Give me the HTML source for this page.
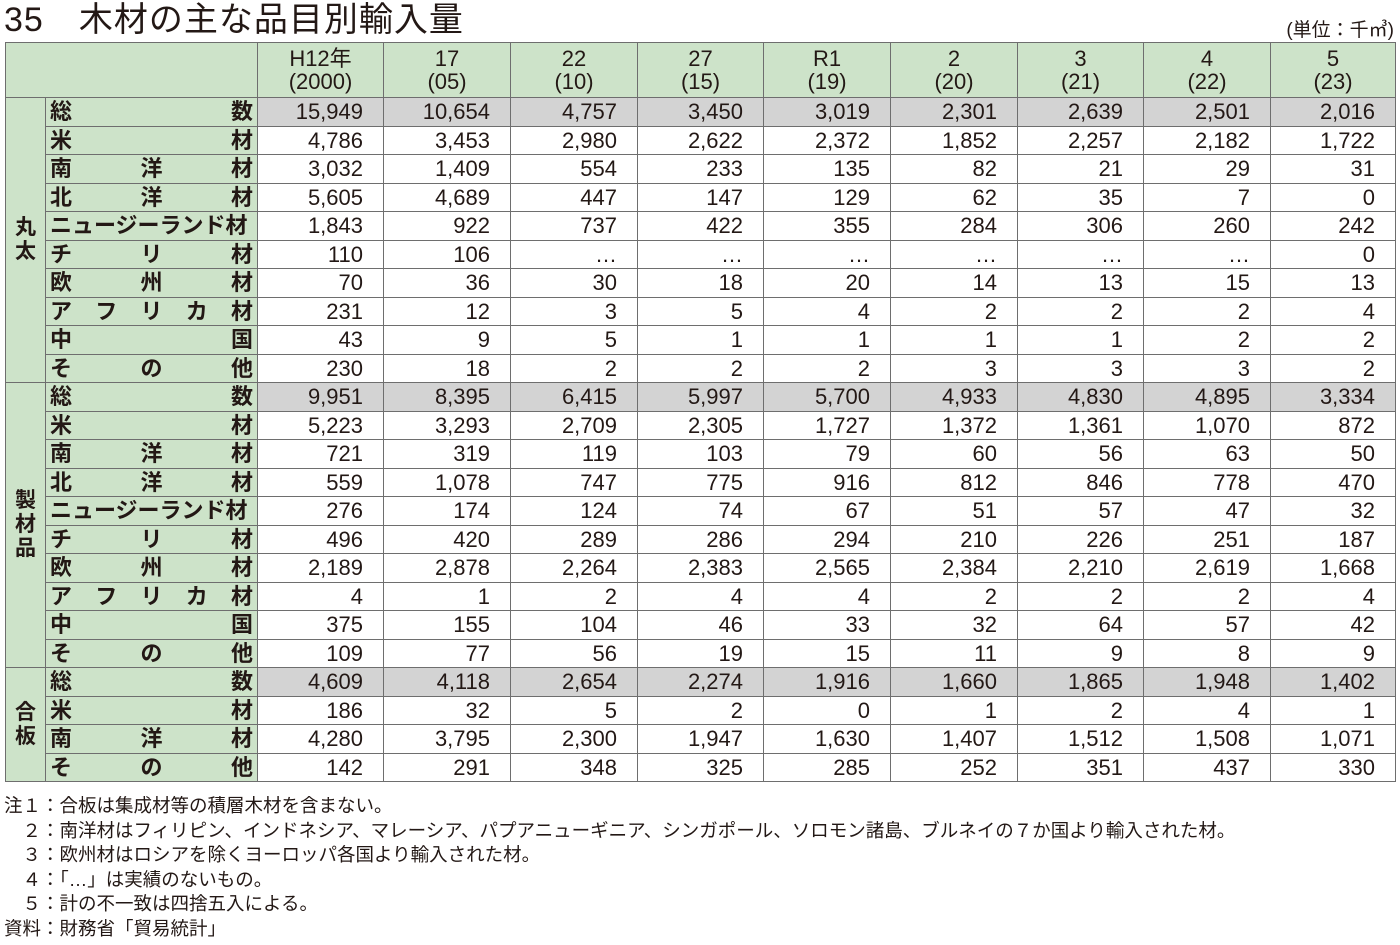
<!DOCTYPE html>
<html><head><meta charset="utf-8"><style>
body{margin:0;width:1400px;height:945px;background:#fff;font-family:"Liberation Sans","Noto Sans CJK JP",sans-serif;color:#231815;position:relative;overflow:hidden}
.title{position:absolute;left:4px;top:0px;font-size:34px;line-height:40px;letter-spacing:1px}
.unit{position:absolute;right:6px;top:15px;font-size:19px}
table{position:absolute;left:5px;top:42px;border-collapse:collapse;table-layout:fixed;width:1390px}
td,th{border:1.5px solid #6e6e6e;padding:0;font-weight:normal}
th{background:#cde3c9;font-size:22px;line-height:23px;height:54px;text-align:center}
td{height:27.5px;font-size:22px;line-height:27px}
td.g{background:#cde3c9;text-align:center;font-size:21px;line-height:24px;font-weight:bold}
td.l{background:#cde3c9;padding:0 4px;font-weight:bold}
td.l div{display:flex;justify-content:space-between}
td.n{text-align:right;padding-right:20px}
tr.t td.n{background:#d3d3d3}
.notes{position:absolute;left:4px;top:794px;font-size:18.5px;line-height:24.6px}
</style></head><body>
<div class="title">35　木材の主な品目別輸入量</div>
<div class="unit">(単位：千㎥)</div>
<table>
<colgroup><col style="width:40px"><col style="width:212px"><col style="width:126px"><col style="width:127px"><col style="width:127px"><col style="width:126px"><col style="width:127px"><col style="width:127px"><col style="width:126px"><col style="width:127px"><col style="width:125px"></colgroup>
<tr><th colspan="2"></th><th>H12年<br>(2000)</th><th>17<br>(05)</th><th>22<br>(10)</th><th>27<br>(15)</th><th>R1<br>(19)</th><th>2<br>(20)</th><th>3<br>(21)</th><th>4<br>(22)</th><th>5<br>(23)</th></tr>
<tr class="t"><td class="g" rowspan="10">丸<br>太</td><td class="l"><div><span>総</span><span>数</span></div></td><td class="n">15,949</td><td class="n">10,654</td><td class="n">4,757</td><td class="n">3,450</td><td class="n">3,019</td><td class="n">2,301</td><td class="n">2,639</td><td class="n">2,501</td><td class="n">2,016</td></tr>
<tr><td class="l"><div><span>米</span><span>材</span></div></td><td class="n">4,786</td><td class="n">3,453</td><td class="n">2,980</td><td class="n">2,622</td><td class="n">2,372</td><td class="n">1,852</td><td class="n">2,257</td><td class="n">2,182</td><td class="n">1,722</td></tr>
<tr><td class="l"><div><span>南</span><span>洋</span><span>材</span></div></td><td class="n">3,032</td><td class="n">1,409</td><td class="n">554</td><td class="n">233</td><td class="n">135</td><td class="n">82</td><td class="n">21</td><td class="n">29</td><td class="n">31</td></tr>
<tr><td class="l"><div><span>北</span><span>洋</span><span>材</span></div></td><td class="n">5,605</td><td class="n">4,689</td><td class="n">447</td><td class="n">147</td><td class="n">129</td><td class="n">62</td><td class="n">35</td><td class="n">7</td><td class="n">0</td></tr>
<tr><td class="l"><div><span>ニュージーランド材</span></div></td><td class="n">1,843</td><td class="n">922</td><td class="n">737</td><td class="n">422</td><td class="n">355</td><td class="n">284</td><td class="n">306</td><td class="n">260</td><td class="n">242</td></tr>
<tr><td class="l"><div><span>チ</span><span>リ</span><span>材</span></div></td><td class="n">110</td><td class="n">106</td><td class="n">…</td><td class="n">…</td><td class="n">…</td><td class="n">…</td><td class="n">…</td><td class="n">…</td><td class="n">0</td></tr>
<tr><td class="l"><div><span>欧</span><span>州</span><span>材</span></div></td><td class="n">70</td><td class="n">36</td><td class="n">30</td><td class="n">18</td><td class="n">20</td><td class="n">14</td><td class="n">13</td><td class="n">15</td><td class="n">13</td></tr>
<tr><td class="l"><div><span>ア</span><span>フ</span><span>リ</span><span>カ</span><span>材</span></div></td><td class="n">231</td><td class="n">12</td><td class="n">3</td><td class="n">5</td><td class="n">4</td><td class="n">2</td><td class="n">2</td><td class="n">2</td><td class="n">4</td></tr>
<tr><td class="l"><div><span>中</span><span>国</span></div></td><td class="n">43</td><td class="n">9</td><td class="n">5</td><td class="n">1</td><td class="n">1</td><td class="n">1</td><td class="n">1</td><td class="n">2</td><td class="n">2</td></tr>
<tr><td class="l"><div><span>そ</span><span>の</span><span>他</span></div></td><td class="n">230</td><td class="n">18</td><td class="n">2</td><td class="n">2</td><td class="n">2</td><td class="n">3</td><td class="n">3</td><td class="n">3</td><td class="n">2</td></tr>
<tr class="t"><td class="g" rowspan="10">製<br>材<br>品</td><td class="l"><div><span>総</span><span>数</span></div></td><td class="n">9,951</td><td class="n">8,395</td><td class="n">6,415</td><td class="n">5,997</td><td class="n">5,700</td><td class="n">4,933</td><td class="n">4,830</td><td class="n">4,895</td><td class="n">3,334</td></tr>
<tr><td class="l"><div><span>米</span><span>材</span></div></td><td class="n">5,223</td><td class="n">3,293</td><td class="n">2,709</td><td class="n">2,305</td><td class="n">1,727</td><td class="n">1,372</td><td class="n">1,361</td><td class="n">1,070</td><td class="n">872</td></tr>
<tr><td class="l"><div><span>南</span><span>洋</span><span>材</span></div></td><td class="n">721</td><td class="n">319</td><td class="n">119</td><td class="n">103</td><td class="n">79</td><td class="n">60</td><td class="n">56</td><td class="n">63</td><td class="n">50</td></tr>
<tr><td class="l"><div><span>北</span><span>洋</span><span>材</span></div></td><td class="n">559</td><td class="n">1,078</td><td class="n">747</td><td class="n">775</td><td class="n">916</td><td class="n">812</td><td class="n">846</td><td class="n">778</td><td class="n">470</td></tr>
<tr><td class="l"><div><span>ニュージーランド材</span></div></td><td class="n">276</td><td class="n">174</td><td class="n">124</td><td class="n">74</td><td class="n">67</td><td class="n">51</td><td class="n">57</td><td class="n">47</td><td class="n">32</td></tr>
<tr><td class="l"><div><span>チ</span><span>リ</span><span>材</span></div></td><td class="n">496</td><td class="n">420</td><td class="n">289</td><td class="n">286</td><td class="n">294</td><td class="n">210</td><td class="n">226</td><td class="n">251</td><td class="n">187</td></tr>
<tr><td class="l"><div><span>欧</span><span>州</span><span>材</span></div></td><td class="n">2,189</td><td class="n">2,878</td><td class="n">2,264</td><td class="n">2,383</td><td class="n">2,565</td><td class="n">2,384</td><td class="n">2,210</td><td class="n">2,619</td><td class="n">1,668</td></tr>
<tr><td class="l"><div><span>ア</span><span>フ</span><span>リ</span><span>カ</span><span>材</span></div></td><td class="n">4</td><td class="n">1</td><td class="n">2</td><td class="n">4</td><td class="n">4</td><td class="n">2</td><td class="n">2</td><td class="n">2</td><td class="n">4</td></tr>
<tr><td class="l"><div><span>中</span><span>国</span></div></td><td class="n">375</td><td class="n">155</td><td class="n">104</td><td class="n">46</td><td class="n">33</td><td class="n">32</td><td class="n">64</td><td class="n">57</td><td class="n">42</td></tr>
<tr><td class="l"><div><span>そ</span><span>の</span><span>他</span></div></td><td class="n">109</td><td class="n">77</td><td class="n">56</td><td class="n">19</td><td class="n">15</td><td class="n">11</td><td class="n">9</td><td class="n">8</td><td class="n">9</td></tr>
<tr class="t"><td class="g" rowspan="4">合<br>板</td><td class="l"><div><span>総</span><span>数</span></div></td><td class="n">4,609</td><td class="n">4,118</td><td class="n">2,654</td><td class="n">2,274</td><td class="n">1,916</td><td class="n">1,660</td><td class="n">1,865</td><td class="n">1,948</td><td class="n">1,402</td></tr>
<tr><td class="l"><div><span>米</span><span>材</span></div></td><td class="n">186</td><td class="n">32</td><td class="n">5</td><td class="n">2</td><td class="n">0</td><td class="n">1</td><td class="n">2</td><td class="n">4</td><td class="n">1</td></tr>
<tr><td class="l"><div><span>南</span><span>洋</span><span>材</span></div></td><td class="n">4,280</td><td class="n">3,795</td><td class="n">2,300</td><td class="n">1,947</td><td class="n">1,630</td><td class="n">1,407</td><td class="n">1,512</td><td class="n">1,508</td><td class="n">1,071</td></tr>
<tr><td class="l"><div><span>そ</span><span>の</span><span>他</span></div></td><td class="n">142</td><td class="n">291</td><td class="n">348</td><td class="n">325</td><td class="n">285</td><td class="n">252</td><td class="n">351</td><td class="n">437</td><td class="n">330</td></tr>
</table>
<div class="notes">
注１：合板は集成材等の積層木材を含まない。<br>
　２：南洋材はフィリピン、インドネシア、マレーシア、パプアニューギニア、シンガポール、ソロモン諸島、ブルネイの７か国より輸入された材。<br>
　３：欧州材はロシアを除くヨーロッパ各国より輸入された材。<br>
　４：「…」は実績のないもの。<br>
　５：計の不一致は四捨五入による。<br>
資料：財務省「貿易統計」
</div>
</body></html>
